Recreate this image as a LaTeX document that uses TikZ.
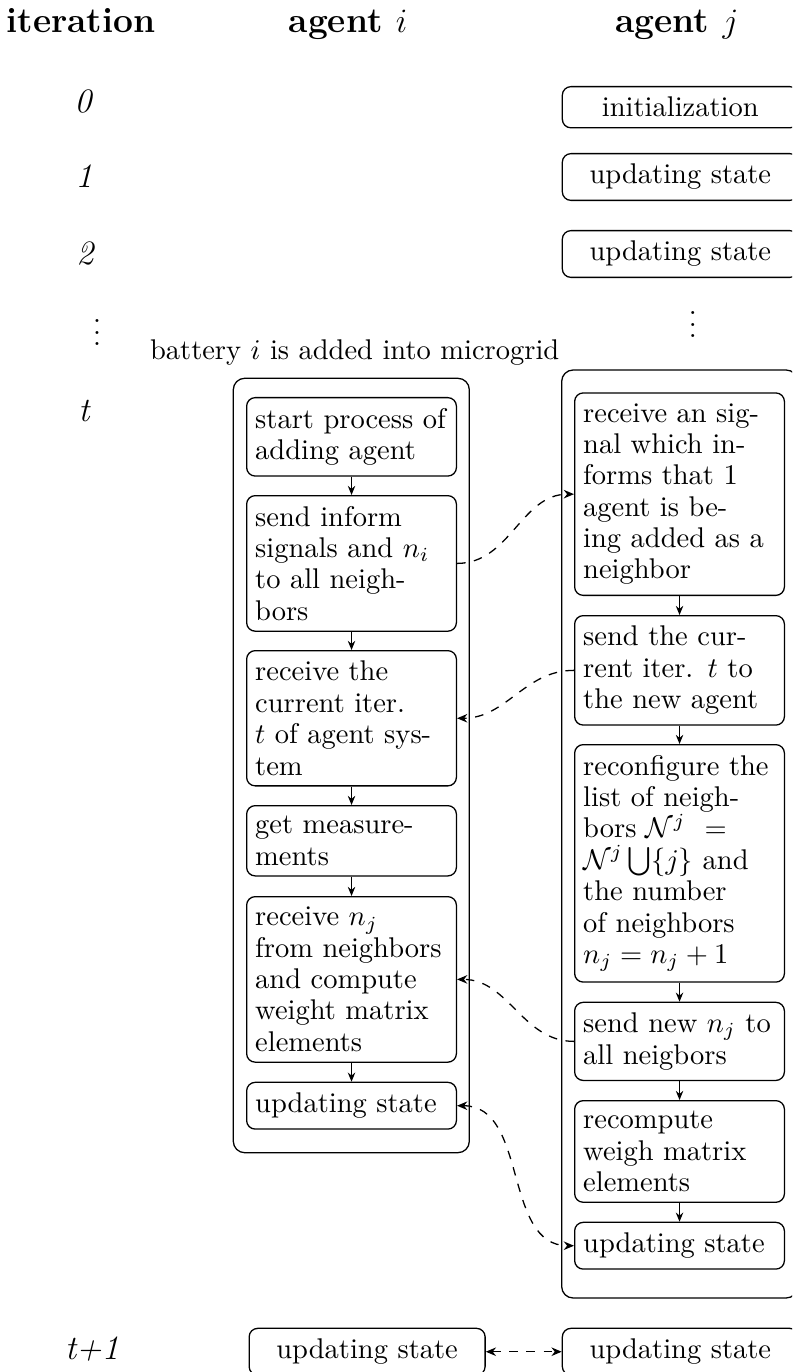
\documentclass[tikz,border=0pt]{standalone}
\usetikzlibrary{arrows.meta}
\begin{document}
\begin{tikzpicture}[x=0.35087pt,y=-0.35087pt,
  every node/.style={font=\fontsize{10}{11}\selectfont},
  stepbox/.style={draw, rounded corners=3pt, line width=0.45pt, text width=67.6pt, align=left, inner xsep=3pt, inner ysep=3.7pt, anchor=north west},
  rowbox/.style={draw, rounded corners=3pt, line width=0.45pt, minimum width=82.8pt, inner sep=3.7pt, anchor=north west, align=center},
  frame/.style={draw, rounded corners=4pt, line width=0.45pt},
  arr/.style={-{Stealth[length=3.2pt,width=2.6pt]}, line width=0.45pt},
  darr/.style={dashed, line width=0.45pt, -{Stealth[length=3.6pt,width=3pt]}},
  ddarr/.style={dashed, line width=0.45pt, {Stealth[length=3.6pt,width=3pt]}-{Stealth[length=3.6pt,width=3pt]}},
  head/.style={font=\fontsize{12.4}{15}\selectfont\bfseries, anchor=base},
  iter/.style={font=\fontsize{12}{14}\selectfont\itshape, anchor=base},
]
\useasboundingbox (0,0) rectangle (792,1372);
\clip (0,0) rectangle (792,1372);

% headers
\node[head] (hIter) at (81,33) {iteration};
\node[head] (hI) at (348,33) {agent $i$};
\node[head] (hJ) at (677,33) {agent $j$};

% iteration labels
\node[iter] (l0) at (83,113) {0};
\node[iter] (l1) at (84,188) {1};
\node[iter] (l2) at (85,265) {2};
\node (ldots) at (97,324) {$\vdots$};
\node[iter] (lt) at (84,422) {t};
\node[iter] (lt1) at (92,1359) {t+1};

% right column rows
\node[rowbox] (j0) at (561.7,86) {initialization};
\node[rowbox] (j1r) at (561.7,153) {updating state};
\node[rowbox] (j2r) at (561.7,230) {updating state};
\node (rdots) at (692.7,316) {$\vdots$};

\node[anchor=base west] (bat) at (140,360) {battery $i$ is added into microgrid};

% containers
\draw[frame] (233.3,378.3) rectangle (469.3,1152.7);
\draw[frame] (561.7,370) rectangle (797.5,1298);

% agent i
\node[stepbox] (a1) at (246,397) {start process of\\ adding agent};
\node[stepbox] (a2) at (246,495) {send inform\\ signals and $n_i$\\ to all neigh-\\ bors};
\node[stepbox] (a3) at (246,650) {receive the\\ current iter.\\ $t$ of agent sys-\\ tem};
\node[stepbox] (a4) at (246,805) {get measure-\\ ments};
\node[stepbox] (a5) at (246,896) {receive $n_j$\\ from neighbors\\ and compute\\ weight matrix\\ elements};
\node[stepbox] (a6) at (246,1081.7) {updating state};

% agent j
\node[stepbox] (b1) at (574,392.3) {receive an sig-\\ nal which in-\\ forms that 1\\ agent is be-\\ ing added as a\\ neighbor};
\node[stepbox] (b2) at (574,615) {send the cur-\\ rent iter. $t$ to\\ the new agent};
\node[stepbox] (b3) at (574,744) {reconfigure the\\ list of neigh-\\ bors $\mathcal{N}^j$\ \ $=$\\ $\mathcal{N}^j\bigcup\{j\}$ and\\ the number\\ of neighbors\\ $n_j=n_j+1$};
\node[stepbox] (b4) at (574,1001.7) {send new $n_j$ to\\ all neigbors};
\node[stepbox] (b5) at (574,1100) {recompute\\ weigh matrix\\ elements};
\node[stepbox] (b6) at (574,1221.7) {updating state};

% bottom row
\node[rowbox] (c1) at (248.5,1327.7) {updating state};
\node[rowbox] (c2) at (561.7,1327.7) {updating state};

% arrows
\foreach \u/\v in {a1/a2,a2/a3,a3/a4,a4/a5,a5/a6,b1/b2,b2/b3,b3/b4,b4/b5,b5/b6}
  \draw[arr] (\u) -- (\v);

\draw[darr] (a2.east) to[out=0,in=180] (b1.west);
\draw[darr] (b2.west) to[out=180,in=0] (a3.east);
\draw[darr] (b4.west) to[out=180,in=0] (a5.east);
\draw[ddarr] (a6.east) to[out=0,in=180] (b6.west);
\draw[ddarr] (c1.east) -- (c2.west);
\end{tikzpicture}
\end{document}
